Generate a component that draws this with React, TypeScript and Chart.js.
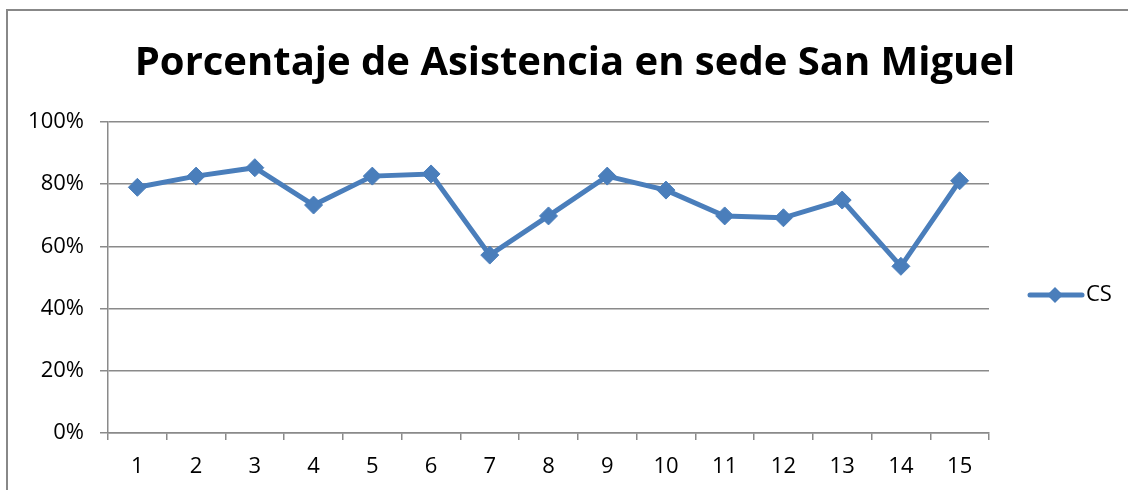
import React, { useEffect, useRef } from 'react';
import { Chart, registerables } from 'chart.js';

Chart.register(...registerables);

const titleText = 'Porcentaje de Asistencia en sede San Miguel';
const categories = ['1', '2', '3', '4', '5', '6', '7', '8', '9', '10', '11', '12', '13', '14', '15'];
const seriesName = 'CS';
const csValues = [79.0, 82.6, 85.3, 73.3, 82.6, 83.3, 57.2, 69.8, 82.6, 78.1, 69.8, 69.2, 74.9, 53.6, 81.1];
const yMin = 0;
const yMax = 100;
const yStep = 20;

const BLUE = '#4a7ebb';
const GRID = '#8a8a8a';
const FONT = "'Open Sans', 'Noto Sans', sans-serif";

const decorPlugin = {
  id: 'decor',
  afterDraw(chart: any) {
    const ctx = chart.ctx as CanvasRenderingContext2D;
    ctx.save();
    // title
    ctx.fillStyle = '#000';
    ctx.font = `bold 40px ${FONT}`;
    ctx.textAlign = 'center';
    ctx.textBaseline = 'alphabetic';
    ctx.fillText(titleText, 575, 75);
    // legend
    const ly = 295;
    ctx.strokeStyle = BLUE;
    ctx.lineWidth = 5;
    ctx.lineCap = 'round';
    ctx.beginPath();
    ctx.moveTo(1030, ly);
    ctx.lineTo(1082, ly);
    ctx.stroke();
    ctx.fillStyle = BLUE;
    const r = 8;
    const cx = 1055;
    ctx.beginPath();
    ctx.moveTo(cx - r, ly);
    ctx.lineTo(cx, ly - r);
    ctx.lineTo(cx + r, ly);
    ctx.lineTo(cx, ly + r);
    ctx.closePath();
    ctx.fill();
    ctx.fillStyle = '#000';
    ctx.font = `22px ${FONT}`;
    ctx.textAlign = 'left';
    ctx.textBaseline = 'middle';
    ctx.fillText(seriesName, 1086, ly);
    ctx.restore();
  },
};

export default function App() {
  const ref = useRef<HTMLCanvasElement | null>(null);

  useEffect(() => {
    if (!ref.current) return;
    const chart = new Chart(ref.current, {
      type: 'line',
      data: {
        labels: categories,
        datasets: [
          {
            label: seriesName,
            data: csValues,
            borderColor: BLUE,
            backgroundColor: BLUE,
            borderWidth: 5,
            pointStyle: 'rectRot',
            pointRadius: 9,
            pointBorderWidth: 1,
            pointBackgroundColor: BLUE,
            pointBorderColor: BLUE,
            tension: 0,
            fill: false,
          },
        ],
      },
      options: {
        animation: false,
        responsive: false,
        maintainAspectRatio: false,
        layout: { padding: { top: 122, right: 139, bottom: 0, left: 0 } },
        plugins: {
          legend: { display: false },
          title: { display: false },
          tooltip: { enabled: false },
        },
        scales: {
          x: {
            type: 'category',
            offset: true,
            afterFit(s: any) {
              s.height = 57;
            },
            grid: {
              offset: true,
              drawOnChartArea: false,
              drawTicks: true,
              tickLength: 7,
              color: GRID,
              lineWidth: 1.5,
            },
            border: { display: true, color: GRID, width: 1.5 },
            ticks: {
              color: '#000',
              padding: 14,
              font: { family: FONT, size: 22 },
              maxRotation: 0,
              autoSkip: false,
            },
          },
          y: {
            min: yMin,
            max: yMax,
            afterFit(s: any) {
              s.width = 108;
            },
            grid: {
              color: GRID,
              lineWidth: 1.5,
              drawTicks: true,
              tickLength: 8,
            },
            border: { display: true, color: GRID, width: 1.5 },
            ticks: {
              stepSize: yStep,
              color: '#000',
              padding: 16,
              font: { family: FONT, size: 22 },
              callback: (v: any) => `${v}%`,
            },
          },
        },
      },
      plugins: [decorPlugin],
    });
    return () => chart.destroy();
  }, []);

  return (
    <div
      style={{
        position: 'absolute',
        left: 0,
        top: 0,
        width: 1128,
        height: 490,
        overflow: 'hidden',
        background: '#fff',
      }}
    >
      <div
        style={{
          position: 'absolute',
          left: 6,
          top: 9,
          width: 1200,
          height: 600,
          border: '2px solid #888888',
          boxSizing: 'border-box',
        }}
      />
      <canvas
        ref={ref}
        width={1128}
        height={490}
        style={{ position: 'absolute', left: 0, top: 0, width: 1128, height: 490 }}
      />
    </div>
  );
}
